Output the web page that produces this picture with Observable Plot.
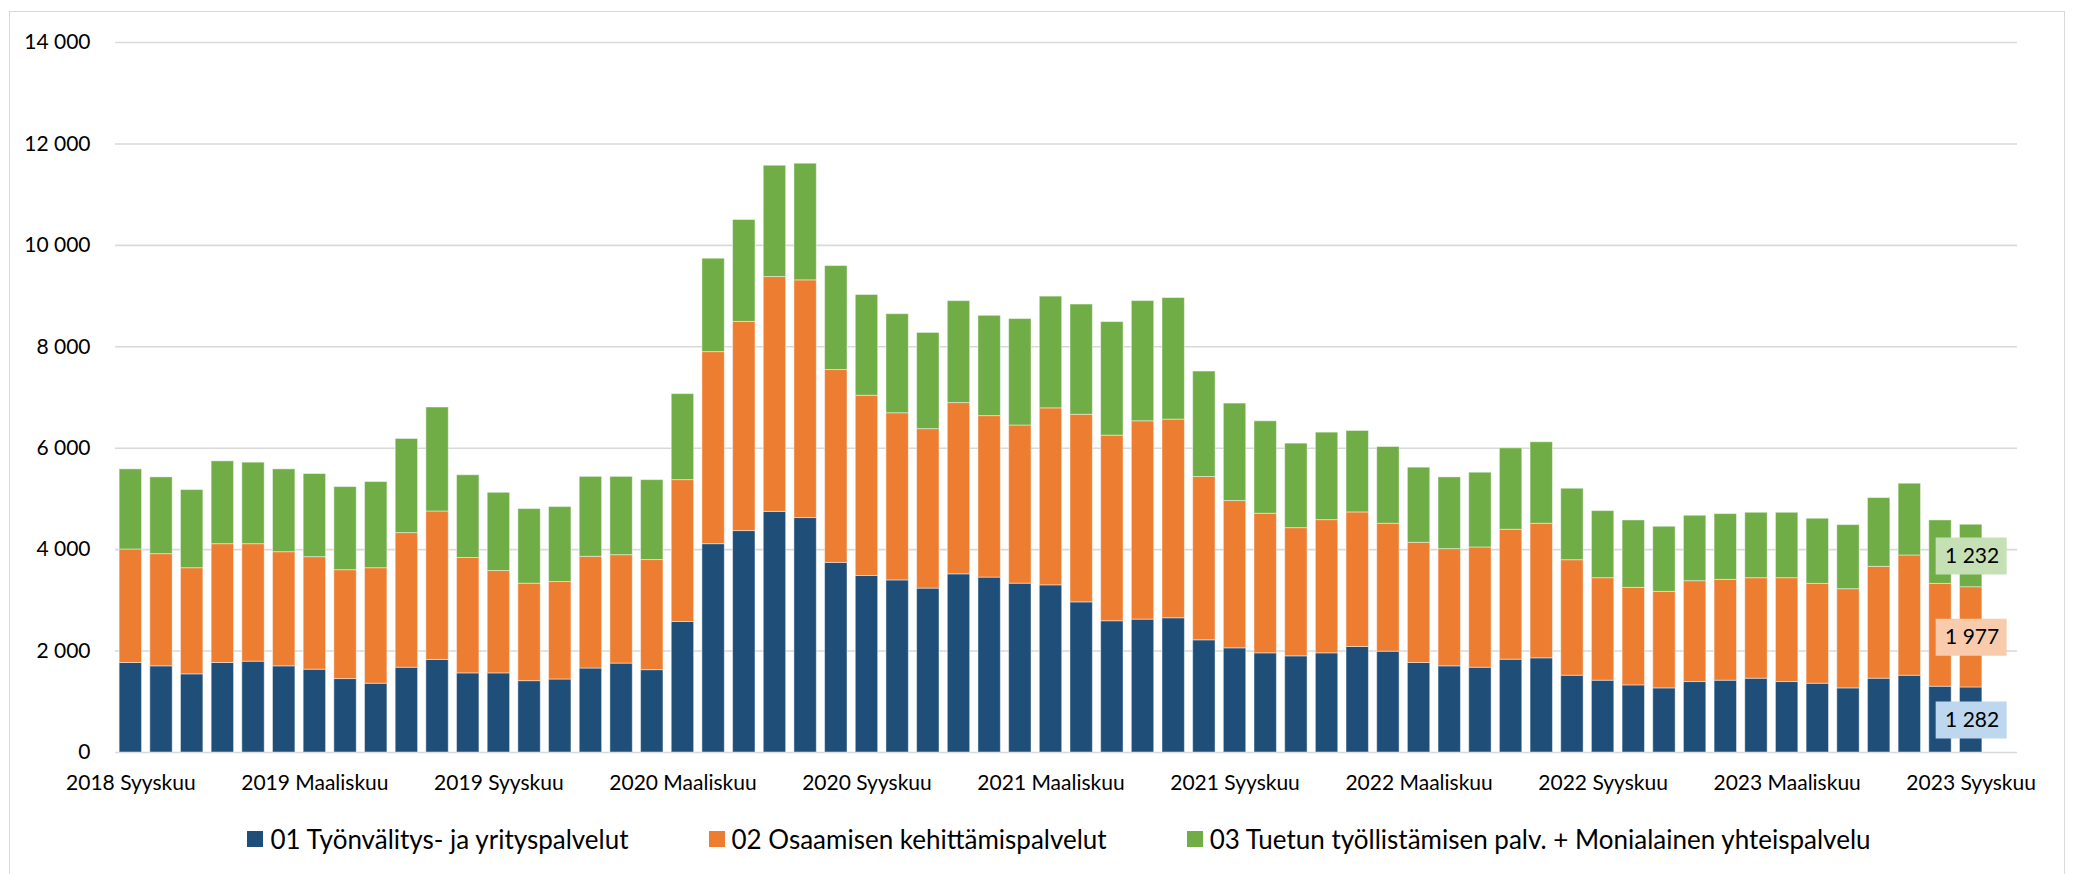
<!DOCTYPE html>
<html>
<head>
<meta charset="utf-8">
<script src="https://cdn.jsdelivr.net/npm/d3@7"></script>
<script src="https://cdn.jsdelivr.net/npm/@observablehq/plot@0.6"></script>
<style>
  html, body { margin: 0; padding: 0; background: #fff; }
  body { width: 2074px; height: 874px; position: relative; overflow: hidden; font-family: Lato, "Open Sans", sans-serif; }
  #frame { position: absolute; left: 9px; top: 11px; width: 2056px; height: 880px; border: 1px solid #d9d9d9; box-sizing: border-box; }
  #chart { position: absolute; left: 0; top: 0; }
  #legend { position: absolute; left: 0; top: 823px; width: 2118px; display: flex; justify-content: center; gap: 80px; font-size: 26px; line-height: 32px; color: #000; }
  #legend .item { display: flex; align-items: center; gap: 7px; white-space: nowrap; }
  #legend .sw { width: 16px; height: 16px; display: inline-block; }
</style>
</head>
<body>
<div id="frame"></div>
<div id="chart"></div>
<div id="legend"></div>
<script>
// ---- data ----
const monthNames = ["Tammikuu","Helmikuu","Maaliskuu","Huhtikuu","Toukokuu","Kesäkuu","Heinäkuu","Elokuu","Syyskuu","Lokakuu","Marraskuu","Joulukuu"];
const months = [];
for (let y = 2018, m = 8; months.length < 61; m++) {
  if (m === 12) { m = 0; y++; }
  months.push(y + " " + monthNames[m]);
}
const seriesNames = [
  "01 Työnvälitys- ja yrityspalvelut",
  "02 Osaamisen kehittämispalvelut",
  "03 Tuetun työllistämisen palv. + Monialainen yhteispalvelu"
];
const seriesColors = ["#1f4e79", "#ed7d31", "#70ad47"];
const labelColors = ["#bdd7ee", "#f8cbad", "#c5e0b4"];

const s01 = [1765,1699,1541,1765,1791,1699,1633,1448,1356,1672,1825,1560,1560,1407,1439,1656,1753,1624,2573,4108,
             4366,4744,4623,3739,3481,3393,3232,3513,3449,3329,3296,2960,2588,2620,2647,2212,2054,1955,1896,1955,
             2081,1988,1765,1699,1672,1830,1857,1514,1416,1323,1264,1389,1416,1455,1389,1356,1264,1455,1514,1297,1282];
const s02 = [2238,2212,2093,2343,2317,2251,2219,2147,2278,2654,2927,2275,2018,1922,1922,2203,2138,2171,2798,3787,
             4124,4631,4687,3802,3554,3296,3144,3377,3184,3119,3490,3700,3660,3911,3917,3220,2904,2753,2528,2627,
             2653,2522,2370,2311,2371,2562,2653,2278,2021,1923,1903,1989,1988,1982,2048,1969,1956,2206,2371,2028,1977];
const s03 = [1580,1514,1541,1633,1607,1633,1639,1639,1699,1856,2051,1632,1543,1471,1479,1576,1544,1576,1696,1841,
             2010,2195,2300,2051,1986,1954,1897,2010,1978,2099,2203,2173,2239,2371,2397,2080,1922,1823,1666,1725,
             1606,1514,1481,1415,1474,1606,1607,1409,1323,1330,1284,1290,1297,1290,1290,1284,1264,1356,1415,1251,1232];
const yTicks = [0, 2000, 4000, 6000, 8000, 10000, 12000, 14000];
const xTickLabels = ["2018 Syyskuu","2019 Maaliskuu","2019 Syyskuu","2020 Maaliskuu","2020 Syyskuu","2021 Maaliskuu",
                     "2021 Syyskuu","2022 Maaliskuu","2022 Syyskuu","2023 Maaliskuu","2023 Syyskuu"];

// ---- table ----
const allSeries = [s01, s02, s03];
const rows = [];
allSeries.forEach((vals, si) => vals.forEach((v, i) => rows.push({month: months[i], series: seriesNames[si], value: v})));
const lastMonth = months[months.length - 1];
const lastRows = rows.filter(d => d.month === lastMonth);

const fmt = v => d3.format(",")(v).replace(/,/g, " ");

const boxSymbol = { draw(ctx) { ctx.rect(-35.5, -18.5, 71, 37); } };

const plot = Plot.plot({
  width: 2074,
  height: 800,
  marginLeft: 115,
  marginRight: 57,
  marginTop: 42,
  marginBottom: 48,
  style: { fontFamily: "Lato, 'Open Sans', sans-serif", fontSize: "21px", color: "#000", background: "transparent" },
  x: { type: "band", domain: months, paddingInner: 0.27, paddingOuter: 0.135, insetRight: 31, label: null },
  y: { domain: [0, 14000], label: null },
  color: {
    domain: [...seriesNames, ...seriesNames.map(s => s + " label")],
    range: [...seriesColors, ...labelColors]
  },
  marks: [
    Plot.ruleY(yTicks, { stroke: "#d9d9d9", strokeWidth: 1.6 }),
    Plot.axisY({ ticks: yTicks, tickSize: 0, tickPadding: 25, tickFormat: fmt, fontSize: 21 }),
    Plot.axisX({ ticks: xTickLabels, tickSize: 0, tickPadding: 23, fontSize: 21 }),
    Plot.barY(rows, { x: "month", y: "value", fill: "series", stroke: "#fff", strokeWidth: 1, strokeOpacity: 0.45 }),
    Plot.dot(lastRows, Plot.stackY({ x: "month", y: "value", fill: d => d.series + " label", symbol: boxSymbol, r: 10, stroke: "none" })),
    Plot.text(lastRows, Plot.stackY({ x: "month", y: "value", text: d => fmt(d.value), fill: "#000", fontSize: 21, dx: 1 }))
  ]
});
document.getElementById("chart").appendChild(plot);

// ---- legend ----
const legend = document.getElementById("legend");
seriesNames.forEach((name, i) => {
  const item = document.createElement("div");
  item.className = "item";
  const sw = document.createElement("span");
  sw.className = "sw";
  sw.style.background = seriesColors[i];
  const tx = document.createElement("span");
  tx.textContent = name;
  item.appendChild(sw);
  item.appendChild(tx);
  legend.appendChild(item);
});
</script>
</body>
</html>
